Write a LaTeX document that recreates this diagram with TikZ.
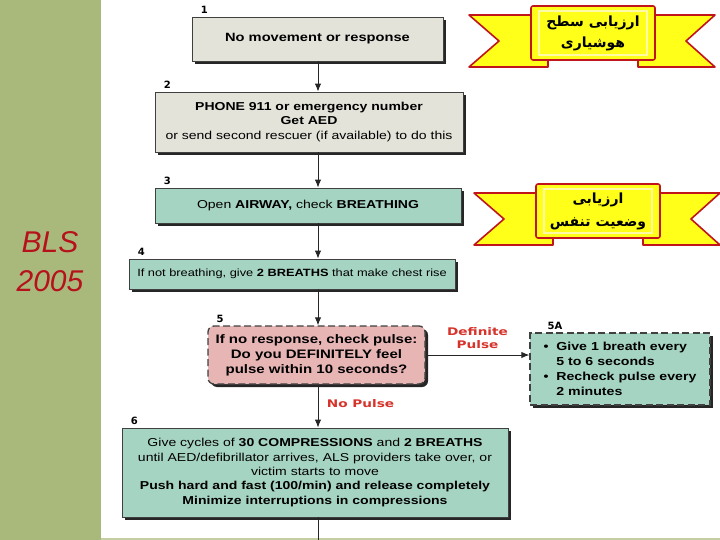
\documentclass[tikz,border=0pt]{standalone}
\usepackage{fontspec}
\setmainfont{Liberation Sans}
\newfontfamily\boxfont{Liberation Sans}[FakeStretch=1.22]
\newfontfamily\tagfont{DejaVu Sans}
\newfontfamily\pulsefont{DejaVu Sans}[FakeStretch=1.3]
\newfontfamily\arabicfont[Script=Arabic]{DejaVu Sans}
\TeXXeTstate=1
\usetikzlibrary{calc,shadows,arrows.meta}
\definecolor{panel}{HTML}{A9B97C}
\definecolor{greybox}{HTML}{E4E3DA}
\definecolor{tealbox}{HTML}{A6D4C3}
\definecolor{pinkbox}{HTML}{E8B5B5}
\definecolor{pulsered}{HTML}{D6332B}
\definecolor{blsred}{HTML}{B5121B}
\definecolor{ribbonred}{HTML}{C0161B}
\definecolor{ribbonyellow}{HTML}{FFFF1A}

\begin{document}
\begin{tikzpicture}[x=1pt,y=-1pt,>={Latex[length=8pt,width=6.5pt]},
                    stepbox/.style={draw=black!75, line width=0.8pt, align=center, inner sep=0pt,
                                    drop shadow={shadow xshift=3pt, shadow yshift=-3pt, opacity=1, fill=black!85},
                                    font=\boxfont\fontsize{11.5}{14.4}\selectfont},
                    tag/.style={anchor=south west, inner sep=0pt, xshift=9pt, yshift=3pt,
                                font=\tagfont\bfseries\fontsize{10}{10}\selectfont},
                    pulse/.style={text=pulsered, font=\pulsefont\bfseries\fontsize{10.5}{13}\selectfont, align=center},
                    ribbon/.style={draw=ribbonred, fill=ribbonyellow, line width=1.6pt, line join=round},
                    link/.style={->, line width=1pt, black!85}]
  \useasboundingbox (0,0) rectangle (720,540);
  \fill[panel] (0,0) rectangle (101,540);
  \fill[panel!70] (101,538) rectangle (720,540);
  \node[font=\itshape\fontsize{30}{39}\selectfont, text=blsred, align=center] (bls) at (50,262) {BLS\\2005};

  \coordinate (ban1) at (593,33);
  \coordinate (ban2) at (598,211);
  \foreach \c in {ban1,ban2}{
    \filldraw[ribbon] ($(\c)+(-124,-18)$) -- ($(\c)+(-45,-18)$) -- ($(\c)+(-45,34)$) -- ($(\c)+(-124,34)$) -- ($(\c)+(-94,8)$) -- cycle;
    \filldraw[ribbon] ($(\c)+(122,-18)$) -- ($(\c)+(45,-18)$) -- ($(\c)+(45,34)$) -- ($(\c)+(122,34)$) -- ($(\c)+(93,8)$) -- cycle;
    \filldraw[ribbon, rounded corners=2pt] ($(\c)+(-62,-27)$) rectangle ($(\c)+(62,27)$);
    \draw[yellow!35, line width=1.3pt] ($(\c)+(-54,-22)$) rectangle ($(\c)+(54,22)$);
  }
  \node[font=\arabicfont\bfseries\fontsize{14}{21}\selectfont, align=center] (ban1txt) at (ban1)
       {\beginR ارزیابی سطح\endR\\\beginR هوشیاری\endR};
  \node[font=\arabicfont\bfseries\fontsize{14}{23}\selectfont, align=center] (ban2txt) at (ban2)
       {\beginR ارزیابی\endR\\\beginR وضعیت تنفس\endR};

  \coordinate (spine) at (318,0);
  \node[stepbox, fill=greybox, minimum width=251pt, minimum height=44pt, font=\boxfont\bfseries\fontsize{12}{15}\selectfont,
        label={[tag]north west:1}] (b1) at (317.5,39) {No movement or response};
  \node[stepbox, fill=greybox, minimum width=308pt, minimum height=60pt,
        label={[tag]north west:2}] (b2) at (309,122)
       {\textbf{PHONE 911} \textbf{or emergency number}\\\textbf{Get AED}\\or send second rescuer (if available) to do this};
  \node[stepbox, fill=tealbox, minimum width=306pt, minimum height=35pt,
        label={[tag]north west:3}] (b3) at (308,205.5)
       {Open \textbf{AIRWAY,} check \textbf{BREATHING}};
  \node[stepbox, fill=tealbox, minimum width=326pt, minimum height=30pt, font=\boxfont\fontsize{10.5}{13}\selectfont,
        label={[tag]north west:4}] (b4) at (292,274)
       {If not breathing, give \textbf{2 BREATHS} that make chest rise};
  \node[stepbox, fill=pinkbox, dashed, dash pattern=on 7pt off 3.5pt, line width=1.3pt, rounded corners=6pt,
        minimum width=217pt, minimum height=58pt, font=\boxfont\bfseries\fontsize{12.3}{15}\selectfont,
        label={[tag]north west:5}] (b5) at (316.5,355)
       {If no response, check pulse:\\Do you DEFINITELY feel\\pulse within 10 seconds?};
  \node[stepbox, fill=tealbox, dashed, dash pattern=on 7pt off 3.5pt, line width=1.3pt,
        minimum width=180pt, minimum height=72pt, align=left, font=\boxfont\bfseries\fontsize{11.6}{15}\selectfont,
        label={[tag, xshift=9pt]north west:5A}] (b5a) at (620,369)
       {\textbullet\ \ Give 1 breath every\\\phantom{\textbullet\ \ }5 to 6 seconds\\\textbullet\ \ Recheck pulse every\\\phantom{\textbullet\ \ }2 minutes};
  \node[stepbox, fill=tealbox, minimum width=386pt, minimum height=89pt,
        label={[tag]north west:6}] (b6) at (315,472.5)
       {Give cycles of \textbf{30 COMPRESSIONS} and \textbf{2 BREATHS}\\
        until AED/defibrillator arrives, ALS providers take over, or\\
        victim starts to move\\
        \textbf{Push hard and fast (100/min) and release completely}\\
        \textbf{Minimize interruptions in compressions}};
  \coordinate (bottom) at (318,540);

  \draw[link] (spine |- b1.south) -- (spine |- b2.north);
  \draw[link] (spine |- b2.south) -- (spine |- b3.north);
  \draw[link] (spine |- b3.south) -- (spine |- b4.north);
  \draw[link] (spine |- b4.south) -- (spine |- b5.north);
  \draw[link] (spine |- b5.south) -- node[pulse, right=5pt, pos=0.45] (nopulse) {No Pulse} (spine |- b6.north);
  \draw[link] (b5.east) -- node[pulse, above=3pt] (defpulse) {Definite\\Pulse} (b5.east -| b5a.west);
  \draw[line width=1pt, black!85] (spine |- b6.south) -- (bottom);
\end{tikzpicture}
\end{document}
